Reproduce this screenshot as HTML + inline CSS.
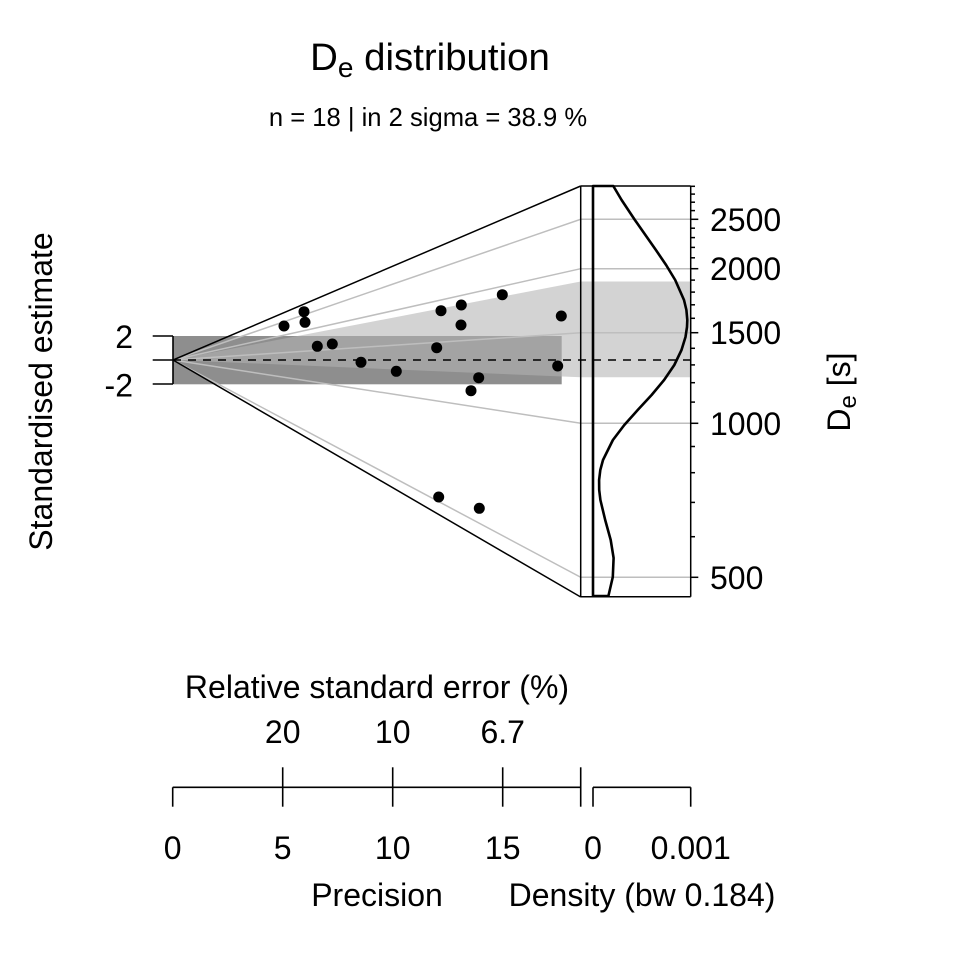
<!DOCTYPE html>
<html>
<head>
<meta charset="utf-8">
<style>
html,body{margin:0;padding:0;background:#fff;}
svg{display:block;}
text{font-family:"Liberation Sans",Arial,sans-serif;fill:#000;}
</style>
</head>
<body>
<svg width="960" height="960" viewBox="0 0 960 960" xmlns="http://www.w3.org/2000/svg">
<rect x="0" y="0" width="960" height="960" fill="#fff"/>

<!-- title -->
<text x="430" y="70" font-size="38.4" text-anchor="middle">D<tspan font-size="28" dy="7">e</tspan><tspan dy="-7"> distribution</tspan></text>
<text x="428" y="126" font-size="25.6" text-anchor="middle">n = 18 | in 2 sigma = 38.9 %</text>

<!-- dark +/-2 band -->
<rect x="173" y="336" width="388.7" height="48.3" fill="#8e8e8e"/>

<!-- light wedge / bar -->
<polygon points="173,360 580.7,281.5 690.7,281.5 690.7,377.3 580.7,377.3" fill="rgb(178,178,178)" fill-opacity="0.575"/>

<!-- grey radial lines -->
<g stroke="#bebebe" stroke-width="1.5" fill="none">
<polyline points="173,360 580.7,219.3 690.7,219.3"/>
<polyline points="173,360 580.7,268.7 690.7,268.7"/>
<polyline points="173,360 580.7,332.7 690.7,332.7"/>
<polyline points="173,360 580.7,423.3 690.7,423.3"/>
<polyline points="173,360 580.7,577.3 690.7,577.3"/>
</g>

<!-- fan outline -->
<g stroke="#000" stroke-width="1.5" fill="none">
<polyline points="580.7,186 173,360 580.7,597"/>
<line x1="580.7" y1="186" x2="580.7" y2="597"/>
<line x1="580.7" y1="186" x2="690.7" y2="186"/>
<line x1="580.7" y1="596.7" x2="690.7" y2="596.7"/>
<line x1="690.7" y1="186" x2="690.7" y2="596.7"/>
</g>

<!-- dashed central line -->
<line x1="173" y1="360" x2="690.7" y2="360" stroke="#000" stroke-width="1.6" stroke-dasharray="8 7"/>

<!-- left bracket axis -->
<g stroke="#000" stroke-width="1.6" fill="none">
<line x1="152.7" y1="336" x2="173" y2="336"/>
<line x1="152.7" y1="360" x2="173" y2="360"/>
<line x1="152.7" y1="384" x2="173" y2="384"/>
<line x1="173" y1="336" x2="173" y2="384"/>
</g>
<text x="133" y="348" font-size="32" text-anchor="end">2</text>
<text x="133" y="396.5" font-size="32" text-anchor="end">-2</text>

<!-- points -->
<g fill="#000">
<circle cx="284" cy="326" r="5.5"/>
<circle cx="304" cy="311.7" r="5.5"/>
<circle cx="305" cy="322.3" r="5.5"/>
<circle cx="317.3" cy="346.3" r="5.5"/>
<circle cx="332.3" cy="344" r="5.5"/>
<circle cx="361" cy="362.3" r="5.5"/>
<circle cx="396.3" cy="371.3" r="5.5"/>
<circle cx="436.7" cy="347.7" r="5.5"/>
<circle cx="441" cy="310.7" r="5.5"/>
<circle cx="461.3" cy="305" r="5.5"/>
<circle cx="461" cy="325" r="5.5"/>
<circle cx="502.3" cy="294.7" r="5.5"/>
<circle cx="561.3" cy="316" r="5.5"/>
<circle cx="557.7" cy="366" r="5.5"/>
<circle cx="478.7" cy="377.7" r="5.5"/>
<circle cx="471" cy="390.7" r="5.5"/>
<circle cx="438.7" cy="497" r="5.5"/>
<circle cx="479.3" cy="508.3" r="5.5"/>
</g>

<!-- density curve -->
<polygon fill="none" stroke="#000" stroke-width="2.6" stroke-linejoin="round"
points="593,186 613.3,186 621.6,200 634.9,220 645.4,235 655.9,250 666.1,265 675.2,280 684.0,300 686.4,310 687.3,320 687.0,327 685.5,337 681.5,350 674.3,365 664.1,380 651.6,395 637.7,410 624.3,425 612.9,440 603.0,460 600.3,470 599.1,480 599.2,490 600.4,500 605.2,520 610.7,540 613.6,558 612.8,577 608.4,596 593,596"/>

<!-- right axis ticks -->
<g stroke="#000" stroke-width="1.5">
<line x1="690.7" y1="219.3" x2="698.3" y2="219.3"/>
<line x1="690.7" y1="268.7" x2="698.3" y2="268.7"/>
<line x1="690.7" y1="332.7" x2="698.3" y2="332.7"/>
<line x1="690.7" y1="423.3" x2="698.3" y2="423.3"/>
<line x1="690.7" y1="577.3" x2="698.3" y2="577.3"/>
<!-- minor -->
<line x1="690.7" y1="536.7" x2="695" y2="536.7"/>
<line x1="690.7" y1="502.4" x2="695" y2="502.4"/>
<line x1="690.7" y1="472.7" x2="695" y2="472.7"/>
<line x1="690.7" y1="446.5" x2="695" y2="446.5"/>
<line x1="690.7" y1="402.1" x2="695" y2="402.1"/>
<line x1="690.7" y1="382.7" x2="695" y2="382.7"/>
<line x1="690.7" y1="364.9" x2="695" y2="364.9"/>
<line x1="690.7" y1="348.3" x2="695" y2="348.3"/>
<line x1="690.7" y1="318.3" x2="695" y2="318.3"/>
<line x1="690.7" y1="304.8" x2="695" y2="304.8"/>
<line x1="690.7" y1="292.1" x2="695" y2="292.1"/>
<line x1="690.7" y1="280.1" x2="695" y2="280.1"/>
<line x1="690.7" y1="257.8" x2="695" y2="257.8"/>
<line x1="690.7" y1="247.4" x2="695" y2="247.4"/>
<line x1="690.7" y1="237.6" x2="695" y2="237.6"/>
<line x1="690.7" y1="228.2" x2="695" y2="228.2"/>
<line x1="690.7" y1="210.6" x2="695" y2="210.6"/>
<line x1="690.7" y1="202.2" x2="695" y2="202.2"/>
<line x1="690.7" y1="194.1" x2="695" y2="194.1"/>
<line x1="690.7" y1="186.3" x2="695" y2="186.3"/>
</g>
<g font-size="32">
<text x="710" y="230.8">2500</text>
<text x="710" y="280.2">2000</text>
<text x="710" y="344.2">1500</text>
<text x="710" y="434.8">1000</text>
<text x="710" y="588.8">500</text>
</g>

<!-- axis titles -->
<text transform="translate(52,391.5) rotate(-90)" font-size="32" text-anchor="middle">Standardised estimate</text>
<text transform="translate(850,392) rotate(-90)" font-size="32" text-anchor="middle">D<tspan font-size="24" dy="6">e</tspan><tspan dy="-6"> [s]</tspan></text>

<!-- bottom axes -->
<g stroke="#000" stroke-width="1.6" fill="none">
<line x1="172.7" y1="787.3" x2="580.7" y2="787.3"/>
<line x1="172.7" y1="787.3" x2="172.7" y2="806.7"/>
<line x1="282.7" y1="767.3" x2="282.7" y2="806.7"/>
<line x1="392.7" y1="767.3" x2="392.7" y2="806.7"/>
<line x1="502.7" y1="767.3" x2="502.7" y2="806.7"/>
<line x1="580.7" y1="767.3" x2="580.7" y2="806.7"/>
<line x1="593" y1="787.3" x2="690.7" y2="787.3"/>
<line x1="593" y1="787.3" x2="593" y2="806.7"/>
<line x1="690.7" y1="787.3" x2="690.7" y2="806.7"/>
</g>
<g font-size="32" text-anchor="middle">
<text x="377" y="698">Relative standard error (%)</text>
<text x="282.7" y="743">20</text>
<text x="392.7" y="743">10</text>
<text x="502.7" y="743">6.7</text>
<text x="172.7" y="859">0</text>
<text x="282.7" y="859">5</text>
<text x="392.7" y="859">10</text>
<text x="502.7" y="859">15</text>
<text x="593" y="859">0</text>
<text x="690.7" y="859">0.001</text>
<text x="377" y="906">Precision</text>
<text x="642" y="906">Density (bw 0.184)</text>
</g>
</svg>
</body>
</html>
